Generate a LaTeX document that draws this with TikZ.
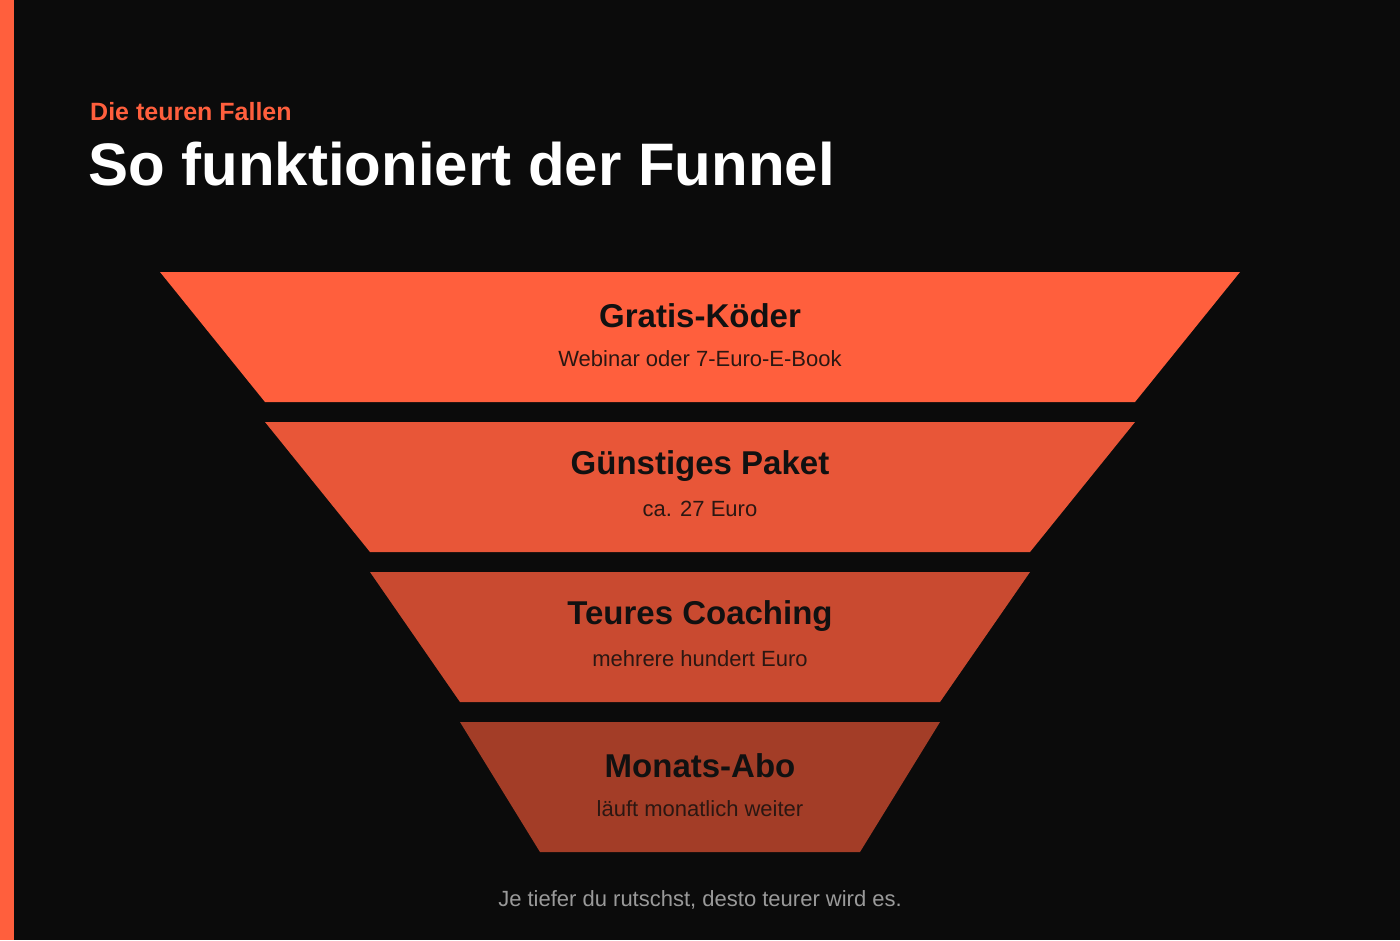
\documentclass[tikz,border=0pt]{standalone}
\usepackage{fontspec}
\setmainfont{Liberation Sans}
\definecolor{bg}{HTML}{0B0B0B}
\definecolor{o1}{HTML}{FF5F3D}
\definecolor{o2}{HTML}{E85638}
\definecolor{o3}{HTML}{C94A30}
\definecolor{o4}{HTML}{A33D27}
\definecolor{ttl}{HTML}{111111}
\definecolor{sub}{HTML}{2B1712}
\definecolor{foot}{HTML}{9A9A9A}
\begin{document}
\begin{tikzpicture}[x=1pt,y=-1pt,
  stagetitle/.style={font=\fontsize{33}{36}\selectfont\bfseries,text=ttl,inner sep=0pt},
  stagesub/.style={font=\fontsize{22}{26}\selectfont,text=sub,inner sep=0pt}]
\fill[bg] (0,0) rectangle (1400,940);
\useasboundingbox (0,0) rectangle (1400,940);
\fill[o1] (0,0) rectangle (14,940);
\node[anchor=base west,inner sep=0pt,text=o1,font=\fontsize{25}{28}\selectfont\bfseries] (kick) at (90,120) {Die teuren Fallen};
\node[anchor=base west,inner sep=0pt,text=white,font=\fontsize{60}{64}\selectfont\bfseries] (title) at (88,185) {So funktioniert der Funnel};
\fill[o1] (160,272) -- (1240,272) -- (1135,402) -- (265,402) -- cycle;
\fill[o2] (265,422) -- (1135,422) -- (1030,552) -- (370,552) -- cycle;
\fill[o3] (370,572) -- (1030,572) -- (940,702) -- (460,702) -- cycle;
\fill[o4] (460,722) -- (940,722) -- (860,852) -- (540,852) -- cycle;
\node[stagetitle] (t1) at (700,316) {Gratis-Köder};
\node[stagesub] (s1) at (700,359) {Webinar oder 7-Euro-E-Book};
\node[stagetitle] (t2) at (700,466) {Günstiges Paket};
\node[stagesub] (s2) at (700,509) {ca. 27 Euro};
\node[stagetitle] (t3) at (700,616) {Teures Coaching};
\node[stagesub] (s3) at (700,659) {mehrere hundert Euro};
\node[stagetitle] (t4) at (700,766) {Monats-Abo};
\node[stagesub] (s4) at (700,809) {läuft monatlich weiter};
\node[inner sep=0pt,text=foot,font=\fontsize{22}{26}\selectfont] (ft) at (700,900) {Je tiefer du rutschst, desto teurer wird es.};
\end{tikzpicture}
\end{document}
